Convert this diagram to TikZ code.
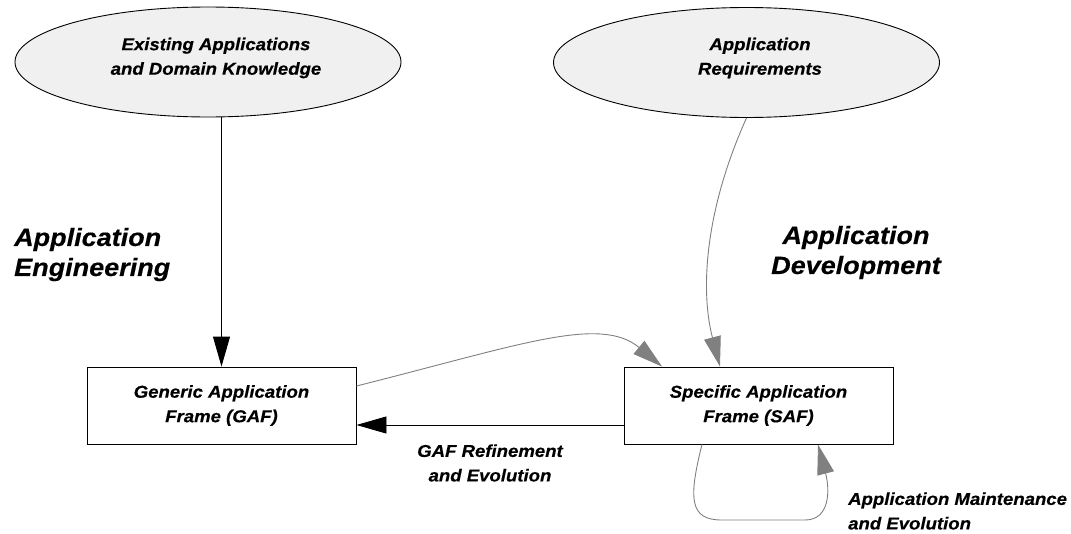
\documentclass[tikz,border=0pt]{standalone}
\usepackage{fontspec}
\setmainfont{Liberation Sans}
\newfontfamily\labfont[FakeStretch=1.08, BoldItalicFeatures={FakeBold=0.4}]{Liberation Sans}
\usetikzlibrary{arrows.meta,shapes.geometric,calc}
\definecolor{linegray}{RGB}{128,128,128}
\definecolor{srcfill}{RGB}{240,240,240}
\begin{document}
\begin{tikzpicture}[x=1pt,y=-1pt,
  txt/.style={font={\labfont\bfseries\itshape\fontsize{17.2}{24.5}\selectfont}, align=center, inner sep=0pt},
  big/.style={font={\labfont\bfseries\itshape\fontsize{25}{30}\selectfont}, inner sep=0pt},
  src/.style={ellipse, draw=black, line width=0.9pt, fill=srcfill, minimum width=386pt, minimum height=110pt, inner sep=0pt},
  framebox/.style={rectangle, draw=black, line width=0.9pt, minimum width=269pt, minimum height=77pt, txt},
  blk/.style={draw=black, line width=0.9pt, -{Triangle[length=30pt,width=17pt]}},
  gry/.style={draw=linegray, line width=0.9pt, -{Triangle[length=30pt,width=17pt,fill=linegray]}}
]
\useasboundingbox (0,0) rectangle (1071,533);

\node[src] (e1) at (208,62) {};
\node[src] (e2) at (746.5,62.5) {};
\node[txt] (e1t) at (216,58) {Existing Applications\\and Domain Knowledge};
\node[txt] (e2t) at (760,58) {Application\\Requirements};

\node[framebox] (gaf) at (221.5,405.5) {Generic Application\\Frame (GAF)};
\node[framebox] (saf) at (758.5,405.5) {Specific Application\\Frame (SAF)};

\node[big, align=left, anchor=west] (ae) at (14,254.5) {Application\\Engineering};
\node[big, align=center] (ad) at (856,252.5) {Application\\Development};
\node[txt] (gr) at (490,463) {GAF Refinement\\and Evolution};
\node[txt, align=left, anchor=west] (am) at (848,511) {Application Maintenance\\and Evolution};

\draw[blk] (gaf.north |- e1.south) -- (gaf.north);
\draw[gry] (e2.south) .. controls (705,210) and (700,290) .. ([xshift=-38.5pt]saf.north);
\draw[gry] ([yshift=19.5pt]gaf.east) .. controls (520,345) and (600,315) .. ([xshift=-96.5pt]saf.north);
\draw[blk] ([yshift=-19.5pt]saf.west) -- ([yshift=-19.5pt]gaf.east);
\draw[gry] ([xshift=-56.5pt]saf.south) .. controls (688,500) and (690,520) .. (722,520) -- (805,520) .. controls (830,520) and (830,490) .. ([xshift=59.5pt]saf.south);
\end{tikzpicture}
\end{document}
